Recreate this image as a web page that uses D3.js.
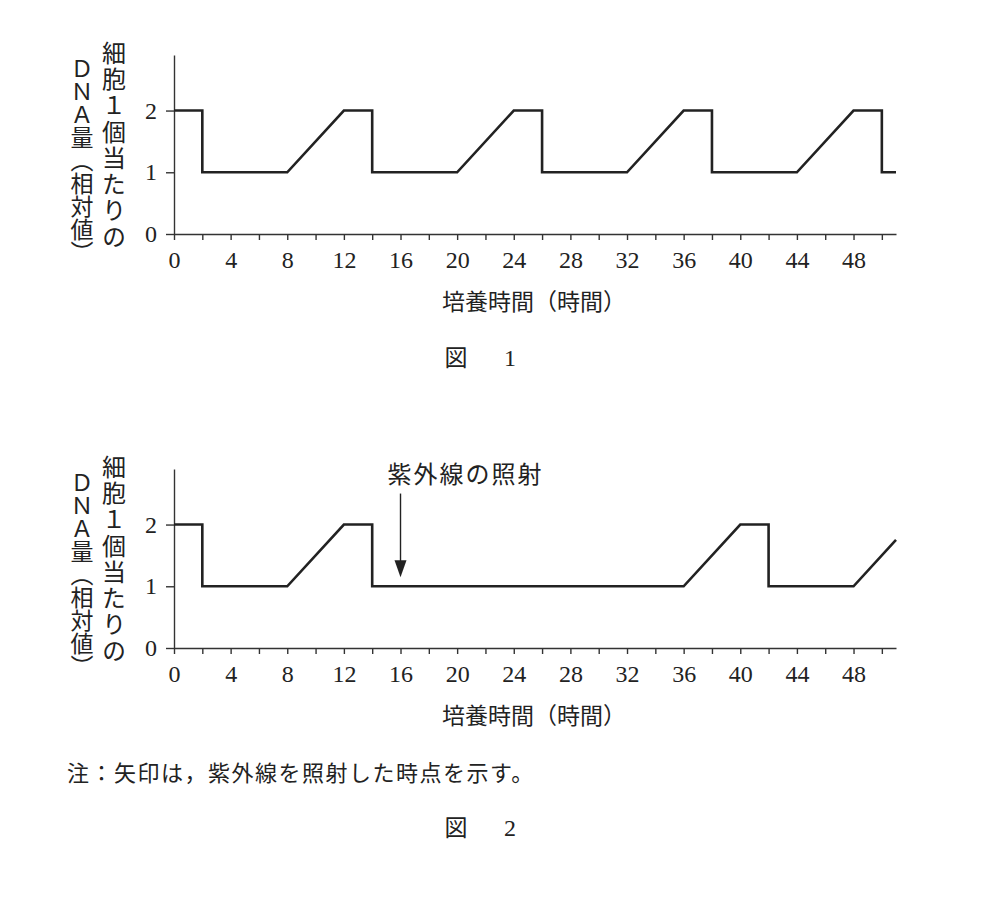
<!DOCTYPE html>
<html>
<head>
<meta charset="utf-8">
<script src="https://cdn.jsdelivr.net/npm/d3@7"></script>
<style>
    body { margin: 0; background: #fff; }
    .jp { font-family: "Noto Sans CJK JP", sans-serif; fill: #222; }
    .serif { font-family: "Liberation Serif", "DejaVu Serif", serif; fill: #222; }
    .vert { writing-mode: vertical-rl; text-orientation: mixed; }
    .axis text { font-family: "Liberation Serif", "DejaVu Serif", serif; font-size: 24px; fill: #222; }
    .axis path, .axis line { stroke: #333; stroke-width: 1.4px; }
</style>
</head>
<body>
<div id="chart"></div>
<script>

// Figure 1: normal culture
const hoursFig1 = [0, 2, 2, 8, 12, 14, 14, 20, 24, 26, 26, 32, 36, 38, 38, 44, 48, 50, 50, 51];
const dnaFig1 =   [2, 2, 1, 1, 2,  2,  1,  1,  2,  2,  1,  1,  2,  2,  1,  1,  2,  2,  1,  1];

// Figure 2: UV irradiation at 16 h
const hoursFig2 = [0, 2, 2, 8, 12, 14, 14, 36, 40, 42, 42, 48, 51];
const dnaFig2 =   [2, 2, 1, 1, 2,  2,  1,  1,  2,  2,  1,  1,  1.75];
const uvHour = 16;

const xTickValues = [0, 2, 4, 6, 8, 10, 12, 14, 16, 18, 20, 22, 24, 26, 28, 30, 32, 34, 36, 38, 40, 42, 44, 46, 48, 50];
const xTickLabels = [0, 4, 8, 12, 16, 20, 24, 28, 32, 36, 40, 44, 48];
const yTickValues = [0, 1, 2];

// y label is set vertically in two columns
const yLabelRight = "細胞１個当たりの";
const yLabelLeft = "ＤＮＡ量（相対値）";
const xLabel = "培養時間（時間）";
const uvLabel = "紫外線の照射";
const noteText = "注：矢印は，紫外線を照射した時点を示す。";


class DnaChart {

    constructor(svg, hours, dna, opts) {
        this.svg = svg;
        this.data = hours.map((h, i) => ({hour: h, dna: dna[i]}));
        this.opts = opts;
        this.initVis();
    }

    initVis() {
        let vis = this;
        let o = vis.opts;

        vis.x = d3.scaleLinear()
            .domain([0, 51])
            .range([174, 896]);

        vis.y = d3.scaleLinear()
            .domain([0, 2.9])
            .range([o.bottom, o.bottom - 179]);

        vis.xAxis = d3.axisBottom(vis.x)
            .tickValues(xTickValues)
            .tickFormat(d => xTickLabels.includes(d) ? d : "")
            .tickSize(6)
            .tickSizeOuter(0)
            .tickPadding(11);

        vis.yAxis = d3.axisLeft(vis.y)
            .tickValues(yTickValues)
            .tickFormat(d3.format("d"))
            .tickSize(8)
            .tickSizeOuter(0)
            .tickPadding(9);

        vis.g = vis.svg.append("g");

        vis.g.append("g")
            .attr("class", "x-axis axis")
            .attr("transform", `translate(0, ${o.bottom})`)
            .call(vis.xAxis);

        vis.g.append("g")
            .attr("class", "y-axis axis")
            .attr("transform", `translate(${vis.x(0)}, 0)`)
            .call(vis.yAxis);

        vis.g.append("text")
            .attr("class", "jp vert")
            .attr("x", 114)
            .attr("y", o.bottom - 193)
            .style("font-size", "24px")
            .style("letter-spacing", "2.2px")
            .text(yLabelRight);

        vis.g.append("text")
            .attr("class", "jp vert")
            .attr("x", 82)
            .attr("y", o.bottom - 177)
            .style("font-size", "23px")
            .style("letter-spacing", "0px")
            .text(yLabelLeft);

        vis.g.append("text")
            .attr("class", "jp")
            .attr("x", 534)
            .attr("y", o.bottom + 76)
            .attr("text-anchor", "middle")
            .style("font-size", "23px")
            .text(xLabel);

        vis.g.append("text")
            .attr("class", "jp")
            .attr("x", 456)
            .attr("y", o.figY)
            .attr("text-anchor", "middle")
            .style("font-size", "23px")
            .text("図");

        vis.g.append("text")
            .attr("class", "serif")
            .attr("x", 510)
            .attr("y", o.figY)
            .attr("text-anchor", "middle")
            .style("font-size", "24px")
            .text(o.figNum);

        vis.updateVis();
    }

    updateVis() {
        let vis = this;

        vis.line = d3.line()
            .x(d => vis.x(d.hour))
            .y(d => vis.y(d.dna));

        vis.g.append("path")
            .datum(vis.data)
            .attr("d", vis.line)
            .attr("fill", "none")
            .attr("stroke", "#222")
            .attr("stroke-width", 2.6)
            .attr("stroke-linejoin", "miter");
    }

    addArrow(hour, label) {
        let vis = this;
        let ax = vis.x(hour);
        let tipY = vis.y(1) - 9;

        vis.g.append("line")
            .attr("x1", ax).attr("x2", ax)
            .attr("y1", vis.y(2) - 31)
            .attr("y2", tipY - 14)
            .attr("stroke", "#222")
            .attr("stroke-width", 1.4);

        vis.g.append("path")
            .attr("d", `M${ax - 6},${tipY - 17} L${ax + 6},${tipY - 17} L${ax},${tipY} Z`)
            .attr("fill", "#222");

        vis.g.append("text")
            .attr("class", "jp")
            .attr("x", ax - 13)
            .attr("y", vis.y(2) - 42)
            .style("font-size", "24px")
            .style("letter-spacing", "2px")
            .text(label);
    }
}


let svg = d3.select("#chart").append("svg")
    .attr("width", 1000)
    .attr("height", 898);

let fig1 = new DnaChart(svg, hoursFig1, dnaFig1, {bottom: 234, figY: 366, figNum: "1"});
let fig2 = new DnaChart(svg, hoursFig2, dnaFig2, {bottom: 648, figY: 836, figNum: "2"});
fig2.addArrow(uvHour, uvLabel);

svg.append("text")
    .attr("class", "jp")
    .attr("x", 67)
    .attr("y", 781)
    .style("font-size", "22px")
    .style("letter-spacing", "1.5px")
    .text(noteText);

</script>
</body>
</html>
